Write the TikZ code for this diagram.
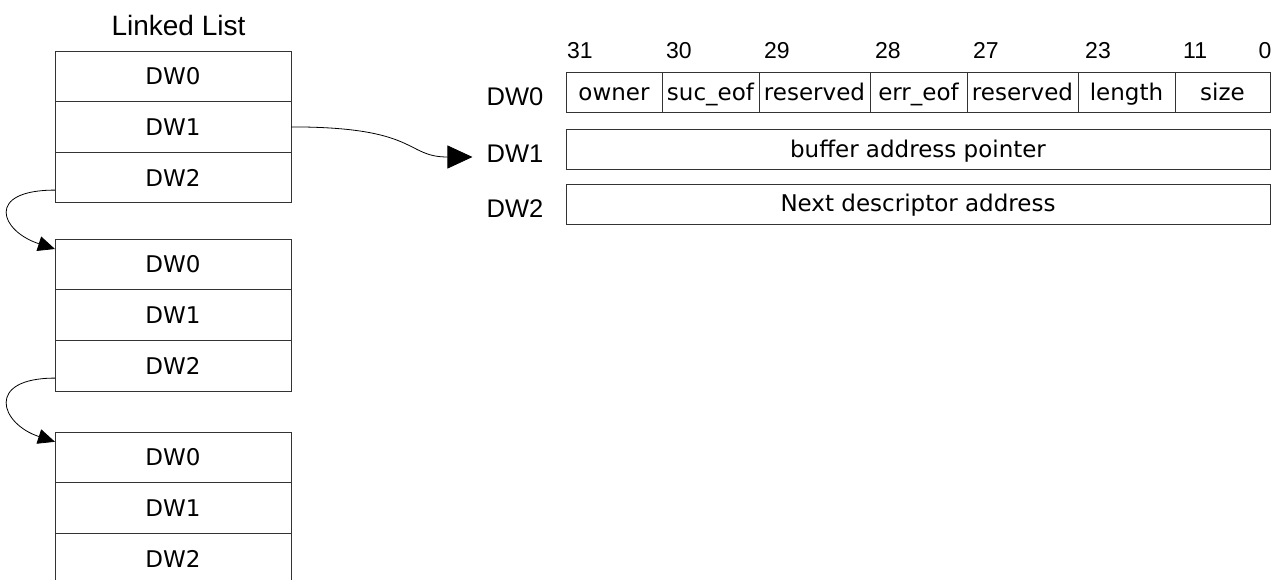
\documentclass[tikz,border=0pt]{standalone}
\usepackage{fontspec}
\newfontfamily\dejavu{DejaVu Sans}
\newfontfamily\libsans{Liberation Sans}
\usetikzlibrary{positioning,arrows.meta}

\begin{document}
\begin{tikzpicture}[x=1pt,y=-1pt,>={Triangle[length=17pt,width=15pt]},
    word/.style={draw=black!80, line width=0.9pt, outer sep=0pt, inner sep=0pt, minimum width=236pt, minimum height=50.6pt, font=\dejavu\fontsize{23}{28}\selectfont},
    field/.style={draw=black!80, line width=0.9pt, outer sep=0pt, inner sep=0pt, minimum height=40pt, text height=19.5pt, text depth=4pt, font=\dejavu\fontsize{23}{28}\selectfont},
    bit/.style={anchor=base west, inner sep=0pt, font=\libsans\fontsize{23}{28}\selectfont},
    lbl/.style={inner sep=0pt, font=\libsans\fontsize{25.5}{30}\selectfont},
    link/.style={line width=0.8pt}]
                \useasboundingbox (0,0) rectangle (1272,579);
                \node[lbl, font=\libsans\fontsize{28}{34}\selectfont] at (178.5,25) (title) {Linked List};

                \node[word] at (173,76.3) (a0) {DW0};
                \node[word, below=0pt of a0] (a1) {DW1};
                \node[word, below=0pt of a1] (a2) {DW2};
                \node[word, below=36.5pt of a2] (b0) {DW0};
                \node[word, below=0pt of b0] (b1) {DW1};
                \node[word, below=0pt of b1] (b2) {DW2};
                \node[word, below=41pt of b2] (c0) {DW0};
                \node[word, below=0pt of c0] (c1) {DW1};
                \node[word, below=0pt of c1] (c2) {DW2};

                \node[lbl] at (515,97) (r0) {DW0};
                \node[lbl] at (515,154) (r1) {DW1};
                \node[lbl] at (515,209) (r2) {DW2};

                \node[field, minimum width=96pt, anchor=west] at (566,92.7) (owner) {owner};
                \node[field, minimum width=97pt, right=0pt of owner] (suc) {suc\_eof};
                \node[field, minimum width=111pt, right=0pt of suc] (res1) {reserved};
                \node[field, minimum width=97pt, right=0pt of res1] (err) {err\_eof};
                \node[field, minimum width=111pt, right=0pt of err] (res2) {reserved};
                \node[field, minimum width=97pt, right=0pt of res2] (len) {length};
                \node[field, minimum width=95pt, right=0pt of len] (size) {size};
                \node[field, minimum width=704pt] at (918,149.3) (buf) {buffer address pointer};
                \node[field, minimum width=704pt] at (918,204) (next) {Next descriptor address};

                \node[bit] at (567,58) (n31) {31};
                \node[bit] at (666,58) (n30) {30};
                \node[bit] at (764,58) (n29) {29};
                \node[bit] at (875,58) (n28) {28};
                \node[bit] at (973,58) (n27) {27};
                \node[bit] at (1085,58) (n23) {23};
                \node[bit] at (1183,58) (n11) {11};
                \node[bit, anchor=base east] at (1271.5,58) (n0) {0};

                \draw[link,->] ([yshift=12.7pt]a2.south west) .. controls +(-70,0) and +(-55,-18) .. ([yshift=-9.7pt]b0.north west);
                \draw[link,->] ([yshift=13pt]b2.south west) .. controls +(-70,0) and +(-55,-18) .. ([yshift=-9.7pt]c0.north west);
                \draw[link,-{Triangle[length=25pt,width=23pt]}] (a1.east) .. controls +(129,0) and +(-68,0) .. ([xshift=-14pt,yshift=-3pt]r1.west);
            \end{tikzpicture}
\end{document}
